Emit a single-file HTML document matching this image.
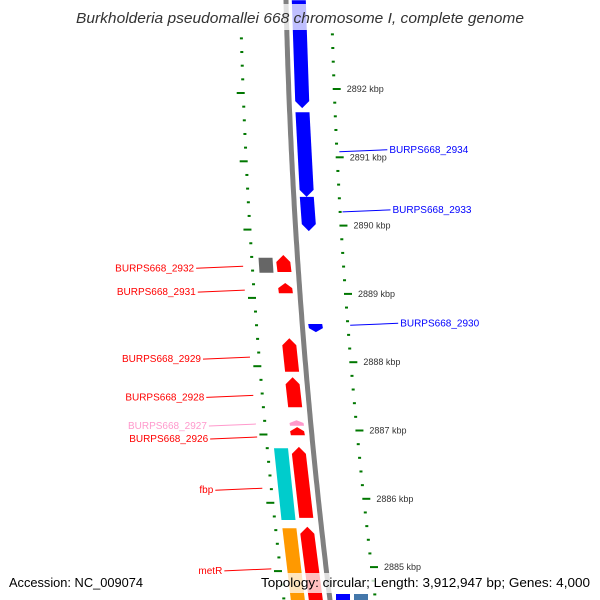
<!DOCTYPE html>
<html><head><meta charset="utf-8"><style>
body{margin:0;background:#fff;overflow:hidden}
svg{display:block;font-family:"Liberation Sans",sans-serif}
</style></head><body>
<svg id="map" width="600" height="600" viewBox="0 0 600 600" overflow="hidden">
<g id="ticks"></g>
<g id="genes"></g>
<g id="labels"></g>
<rect x="70" y="4" width="462" height="26" fill="#fff" opacity="0.75"/>
<text x="76" y="23" textLength="448" lengthAdjust="spacingAndGlyphs" font-size="14.5" font-style="italic" fill="#333">Burkholderia pseudomallei 668 chromosome I, complete genome</text>
<rect x="258" y="573" width="336" height="20" fill="#fff" opacity="0.75"/>
<text x="9" y="587" textLength="134" lengthAdjust="spacingAndGlyphs" font-size="12.5" fill="#000">Accession: NC_009074</text>
<text x="261" y="587" textLength="329" lengthAdjust="spacingAndGlyphs" font-size="12.5" fill="#000">Topology: circular; Length: 3,912,947 bp; Genes: 4,000</text>
</svg>
<script>
const kbpTicks=[2892,2891,2890,2889,2888,2887,2886,2885];
const geneNames=["BURPS668_2935","BURPS668_2934","BURPS668_2933","gray-feature","BURPS668_2932","BURPS668_2931","BURPS668_2930","BURPS668_2929","BURPS668_2928","BURPS668_2927","BURPS668_2926","fbp","fbp-red","metR","metR-red"];
const geneStart=[2893.30,2891.66,2890.42,2889.53,2889.57,2889.16,2888.56,2888.35,2887.78,2887.15,2887.05,2886.74,2886.76,2885.57,2885.59];
const geneEnd=[2891.72,2890.42,2889.92,2889.31,2889.32,2889.01,2888.44,2887.86,2887.34,2887.07,2886.93,2885.69,2885.72,2884.50,2884.50];
const geneStrand=[-1,-1,-1,2,1,1,-1,1,1,1,1,2,1,2,1];
const geneColor=["#0000ff","#0000ff","#0000ff","#666666","#ff0000","#ff0000","#0000ff","#ff0000","#ff0000","#ff99cc","#ff0000","#00cccc","#ff0000","#ff9900","#ff0000"];
const labelText=["BURPS668_2934","BURPS668_2933","BURPS668_2932","BURPS668_2931","BURPS668_2930","BURPS668_2929","BURPS668_2928","BURPS668_2927","BURPS668_2926","fbp","metR"];
const labelKbp=[2891.11,2890.23,2889.39,2889.04,2888.57,2888.06,2887.50,2887.08,2886.89,2886.14,2884.96];
const labelSide=[1,1,-1,-1,1,-1,-1,-1,-1,-1,-1];
const labelColor=["#0000ff","#0000ff","#ff0000","#ff0000","#0000ff","#ff0000","#ff0000","#ff99cc","#ff0000","#ff0000","#ff0000"];
const NS="http://www.w3.org/2000/svg";
const Y=k=>89+(2892-k)*68.3;
const BX=y=>286+0.023*y+8.38e-5*y*y;
function mk(t,a,p){const e=document.createElementNS(NS,t);for(const k in a)e.setAttribute(k,a[k]);p.appendChild(e);return e;}
const ticks=document.getElementById('ticks'),genes=document.getElementById('genes'),labels=document.getElementById('labels');
let d="";for(let y=-5;y<=605;y+=5){d+=(y<0?"M":"L")+BX(y).toFixed(1)+","+y;}
const bb=mk('path',{d:d,stroke:'#808080','stroke-width':5,fill:'none'},genes);


for(let i=0;i<=55;i++){const kk=Math.round((2893.4-i*0.2)*10)/10;const y=Y(kk);if(y<25||y>598)continue;
 const major=Math.abs(kk-Math.round(kk))<0.01;
 const xo=BX(y)+45,xi=BX(y)-46;
 const w=major?8:3;
 const t1=mk('rect',{x:xo-1,y:y-1,width:w,height:2,fill:'#007700'},ticks);
 
 
 const t2=mk('rect',{x:xi-w+2,y:y+3,width:w,height:2,fill:'#007700'},ticks);
 
 
}
kbpTicks.forEach(k=>{const y=Y(k);const t=mk('text',{x:BX(y)+58,y:y+3,'font-size':9,fill:'#333'},ticks);t.textContent=k+" kbp";
 
 });
geneNames.forEach((n,i)=>{let y1=Y(geneStart[i]),y2=Y(geneEnd[i]);const s=geneStrand[i];
 const off=s===-1?[6,20]:s===1?[-21,-7]:[-39,-25];
 const ym=(y1+y2)/2;const b=BX(ym);const x1=b+off[0],x2=b+off[1];const dx=(BX(y2)-BX(y1));
 let pts;const tip=Math.min(7,(y2-y1)*0.5);
 if(s===-1)pts=[[x1-dx/2,y1],[x2-dx/2,y1],[x2+dx/2,y2-tip],[(x1+x2)/2+dx/2,y2],[x1+dx/2,y2-tip]];
 else if(s===1)pts=[[(x1+x2)/2-dx/2,y1],[x2-dx/2,y1+tip],[x2+dx/2,y2],[x1+dx/2,y2],[x1-dx/2,y1+tip]];
 else pts=[[x1-dx/2,y1],[x2-dx/2,y1],[x2+dx/2,y2],[x1+dx/2,y2]];
 const p=mk('polygon',{points:pts.map(q=>q[0].toFixed(1)+","+q[1].toFixed(1)).join(" "),fill:geneColor[i]},genes);
 
 
});
const e1=mk('rect',{x:336,y:594,width:14,height:6,fill:'#0000ff'},genes);


const e2=mk('rect',{x:354,y:594,width:14,height:6,fill:'#4477aa'},genes);


labelText.forEach((t,i)=>{const y=Y(labelKbp[i]);const b=BX(y);
 if(labelSide[i]===1){const x0=b+48,x1=x0+48;
  const l=mk('line',{x1:x0,y1:y+2,x2:x1,y2:y,stroke:labelColor[i],'stroke-width':1},labels);
  
  
  const tx=mk('text',{x:x1+2,y:y+3,'font-size':10,fill:labelColor[i]},labels);tx.textContent=t;
  
  
 } else {const x0=b-55,x1=x0-47;
  const l=mk('line',{x1:x0,y1:y-1,x2:x1,y2:y+1,stroke:labelColor[i],'stroke-width':1},labels);
  
  
  const tx=mk('text',{x:x1-2,y:y+4,'font-size':10,'text-anchor':'end',fill:labelColor[i]},labels);tx.textContent=t;
  
  
 }
});
</script>
</body></html>
